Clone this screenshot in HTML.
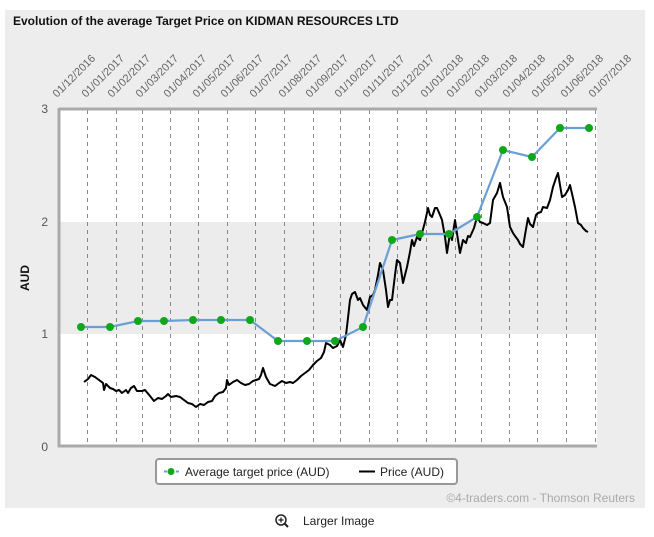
<!DOCTYPE html>
<html><head><meta charset="utf-8"><style>
html,body{margin:0;padding:0;background:#fff;}
svg{display:block;font-family:"Liberation Sans",Arial,sans-serif;}
</style></head><body>
<svg width="654" height="537" viewBox="0 0 654 537">
<rect x="5" y="10" width="640" height="498" fill="#ededed"/>
<text x="13" y="25" font-size="12" font-weight="bold" fill="#111">Evolution of the average Target Price on KIDMAN RESOURCES LTD</text>
<rect x="59" y="109" width="538" height="337" fill="#fff"/>
<rect x="59" y="222" width="538" height="112" fill="#ececec"/>
<g stroke="#888" stroke-width="1" stroke-dasharray="4,4">
<line x1="87.5" y1="110" x2="87.5" y2="446"/><line x1="116.5" y1="110" x2="116.5" y2="446"/><line x1="142.5" y1="110" x2="142.5" y2="446"/><line x1="170.5" y1="110" x2="170.5" y2="446"/><line x1="198.5" y1="110" x2="198.5" y2="446"/><line x1="227.5" y1="110" x2="227.5" y2="446"/><line x1="255.5" y1="110" x2="255.5" y2="446"/><line x1="284.5" y1="110" x2="284.5" y2="446"/><line x1="313.5" y1="110" x2="313.5" y2="446"/><line x1="340.5" y1="110" x2="340.5" y2="446"/><line x1="369.5" y1="110" x2="369.5" y2="446"/><line x1="397.5" y1="110" x2="397.5" y2="446"/><line x1="426.5" y1="110" x2="426.5" y2="446"/><line x1="455.5" y1="110" x2="455.5" y2="446"/><line x1="481.5" y1="110" x2="481.5" y2="446"/><line x1="509.5" y1="110" x2="509.5" y2="446"/><line x1="537.5" y1="110" x2="537.5" y2="446"/><line x1="566.5" y1="110" x2="566.5" y2="446"/><line x1="595.5" y1="110" x2="595.5" y2="446"/>
</g>
<g fill="#666" font-size="11">
<text transform="translate(57,98) rotate(-45)">01/12/2016</text>
<text transform="translate(86,98) rotate(-45)">01/01/2017</text>
<text transform="translate(112,98) rotate(-45)">01/02/2017</text>
<text transform="translate(140,98) rotate(-45)">01/03/2017</text>
<text transform="translate(168,98) rotate(-45)">01/04/2017</text>
<text transform="translate(197,98) rotate(-45)">01/05/2017</text>
<text transform="translate(225,98) rotate(-45)">01/06/2017</text>
<text transform="translate(254,98) rotate(-45)">01/07/2017</text>
<text transform="translate(283,98) rotate(-45)">01/08/2017</text>
<text transform="translate(310,98) rotate(-45)">01/09/2017</text>
<text transform="translate(339,98) rotate(-45)">01/10/2017</text>
<text transform="translate(367,98) rotate(-45)">01/11/2017</text>
<text transform="translate(396,98) rotate(-45)">01/12/2017</text>
<text transform="translate(425,98) rotate(-45)">01/01/2018</text>
<text transform="translate(451,98) rotate(-45)">01/02/2018</text>
<text transform="translate(479,98) rotate(-45)">01/03/2018</text>
<text transform="translate(507,98) rotate(-45)">01/04/2018</text>
<text transform="translate(536,98) rotate(-45)">01/05/2018</text>
<text transform="translate(565,98) rotate(-45)">01/06/2018</text>
<text transform="translate(593,98) rotate(-45)">01/07/2018</text>
</g>
<g fill="#555" font-size="12" text-anchor="end">
<text x="48" y="113">3</text><text x="48" y="226">2</text><text x="48" y="338">1</text><text x="48" y="451">0</text>
</g>
<text transform="translate(29,278) rotate(-90)" font-size="12" font-weight="bold" fill="#111" text-anchor="middle">AUD</text>
<polyline fill="none" stroke="#aaa" stroke-width="3" points="59,109 597,109"/>
<polyline fill="none" stroke="#aaa" stroke-width="3" points="59,108 59,446 597,446"/>
<polyline fill="none" stroke="#000" stroke-width="2" stroke-linejoin="round" points="84,382 88,379 91,375 95,377 99,380 103,383 104,390 106,384 110,388 113,389 116,391 119,390 122,393 126,390 128,393 131,388 134,386 137,391 142,391 145,390 150,396 154,401 158,398 162,399 166,396 168,394 171,397 176,396 180,397 184,400 188,403 192,404 196,407 200,404 204,405 208,402 212,401 215,396 219,393 223,392 226,388 227,380 229,385 233,382 237,380 241,383 245,385 249,384 253,381 256,380 259,379 261,375 263,368 266,377 270,384 275,386 279,383 282,381 286,383 290,382 293,383 297,380 301,376 305,373 309,370 313,365 317,361 321,358 324,352 326,343 330,345 333,348 337,346 340,340 343,347 346,335 348,318 350,300 352,294 355,292 358,300 360,298 363,305 367,310 370,297 373,295 375,290 378,275 380,263 383,270 386,290 388,307 390,300 392,300 395,275 397,260 400,263 403,283 405,275 407,267 410,252 412,240 414,246 417,237 420,240 422,233 425,222 428,208 430,215 432,217 435,208 437,208 440,215 442,220 445,237 447,253 450,233 452,240 455,220 458,240 460,253 463,240 466,243 468,236 470,237 474,228 477,217 480,222 483,223 487,225 490,223 493,200 497,193 500,183 503,197 507,207 510,227 513,233 515,236 518,240 520,244 523,247 525,235 528,218 530,224 533,227 536,215 538,213 541,212 543,207 547,208 550,200 553,187 556,178 558,173 560,185 562,197 565,195 568,190 570,185 573,198 575,207 578,223 581,225 583,228 586,231 588,232"/>
<polyline fill="none" stroke="#6b9fd4" stroke-width="2.2" points="81,327 110,327 138,321 164,321 193,320 221,320 250,320 278,341 307,341 335,341 363,327 392,240 420,234 449,234 477,217 503,150 532,157 560,128 589,128"/>
<g fill="#0ea81a">
<circle cx="81" cy="327" r="4"/><circle cx="110" cy="327" r="4"/><circle cx="138" cy="321" r="4"/><circle cx="164" cy="321" r="4"/><circle cx="193" cy="320" r="4"/><circle cx="221" cy="320" r="4"/><circle cx="250" cy="320" r="4"/><circle cx="278" cy="341" r="4"/><circle cx="307" cy="341" r="4"/><circle cx="335" cy="341" r="4"/><circle cx="363" cy="327" r="4"/><circle cx="392" cy="240" r="4"/><circle cx="420" cy="234" r="4"/><circle cx="449" cy="234" r="4"/><circle cx="477" cy="217" r="4"/><circle cx="503" cy="150" r="4"/><circle cx="532" cy="157" r="4"/><circle cx="560" cy="128" r="4"/><circle cx="589" cy="128" r="4"/>
</g>
<rect x="156" y="459" width="301" height="25" rx="3" fill="#fff" stroke="#999" stroke-width="2"/>
<line x1="164" y1="471.5" x2="180" y2="471.5" stroke="#6b9fd4" stroke-width="2" stroke-dasharray="3,3"/>
<circle cx="171" cy="471.5" r="3.5" fill="#0ea81a"/>
<text x="185" y="476" font-size="12" fill="#222">Average target price (AUD)</text>
<line x1="359" y1="471.5" x2="375" y2="471.5" stroke="#000" stroke-width="2"/>
<text x="380" y="476" font-size="12" fill="#222">Price (AUD)</text>
<text x="635" y="502" font-size="12" fill="#aaa" text-anchor="end">©4-traders.com - Thomson Reuters</text>
<circle cx="281" cy="520" r="5" fill="none" stroke="#222" stroke-width="1.5"/>
<line x1="284.5" y1="523.5" x2="288" y2="527" stroke="#222" stroke-width="2"/>
<line x1="278.5" y1="520" x2="283.5" y2="520" stroke="#222" stroke-width="1.3"/>
<line x1="281" y1="517.5" x2="281" y2="522.5" stroke="#222" stroke-width="1.3"/>
<text x="303" y="525" font-size="12" fill="#222">Larger Image</text>
</svg>
</body></html>
